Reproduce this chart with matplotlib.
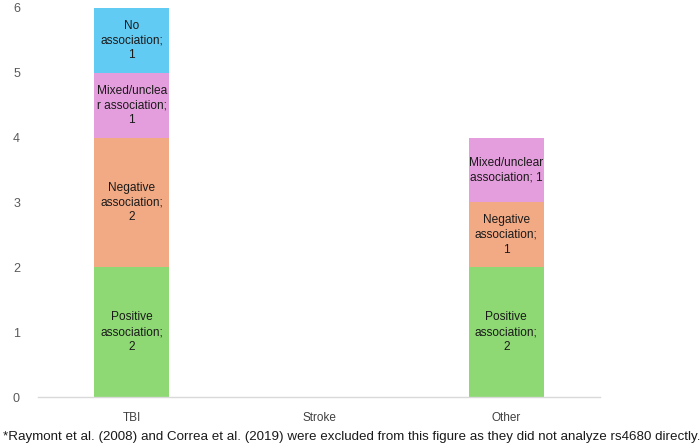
import matplotlib
matplotlib.use("Agg")
from matplotlib import pyplot as plt
import numpy as np

plt.rcParams["font.family"] = ["Liberation Sans", "DejaVu Sans"]

categories = ["TBI", "Stroke", "Other"]
positive = [2, 0, 2]
negative = [2, 0, 1]
mixed = [1, 0, 1]
no_assoc = [1, 0, 0]

# bar text, one list per series (None = no label)
positive_labels = ["Positive\nassociation;\n2", None, "Positive\nassociation;\n2"]
negative_labels = ["Negative\nassociation;\n2", None, "Negative\nassociation;\n1"]
mixed_labels = ["Mixed/unclea\nr association;\n1", None, "Mixed/unclear\nassociation; 1"]
no_labels = ["No\nassociation;\n1", None, None]

footnote = ("*Raymont et al. (2008) and Correa et al. (2019) were excluded from this "
            "figure as they did not analyze rs4680 directly.")

series = [
    (positive, positive_labels, "#8ED973"),
    (negative, negative_labels, "#F2AA84"),
    (mixed, mixed_labels, "#E59EDD"),
    (no_assoc, no_labels, "#61CBF3"),
]

fig = plt.figure(figsize=(7, 4.48), dpi=100)
ax = fig.add_axes([38 / 700, 51 / 448, 562 / 700, 389 / 448])

x = np.arange(len(categories))
bottom = np.zeros(len(categories))
for vals, labels, color in series:
    vals = np.array(vals, dtype=float)
    ax.bar(x, vals, width=0.4, bottom=bottom, color=color, linewidth=0)
    for i, (v, lab) in enumerate(zip(vals, labels)):
        if v > 0 and lab:
            ax.text(x[i], bottom[i] + v / 2, lab, ha="center", va="center",
                    fontsize=8.6, color="#1a1a1a", linespacing=1.3)
    bottom += vals

ax.set_xlim(-0.5, 2.5)
ax.set_ylim(0, 6)
ax.set_xticks(x)
ax.set_xticklabels(categories, fontsize=8.5, color="#404040")
ax.set_yticks(range(7))
ax.tick_params(axis="y", labelsize=9, labelcolor="#595959", length=0, pad=13)
ax.tick_params(axis="x", length=0, pad=11)
for side in ["top", "right", "left"]:
    ax.spines[side].set_visible(False)
ax.spines["bottom"].set_color("#d9d9d9")
ax.spines["bottom"].set_linewidth(1)

fig.text(3 / 700, 1 - 437 / 448, footnote, ha="left", va="center",
         fontsize=9.6, color="#1a1a1a")

fig.savefig("out.png", dpi=100)
